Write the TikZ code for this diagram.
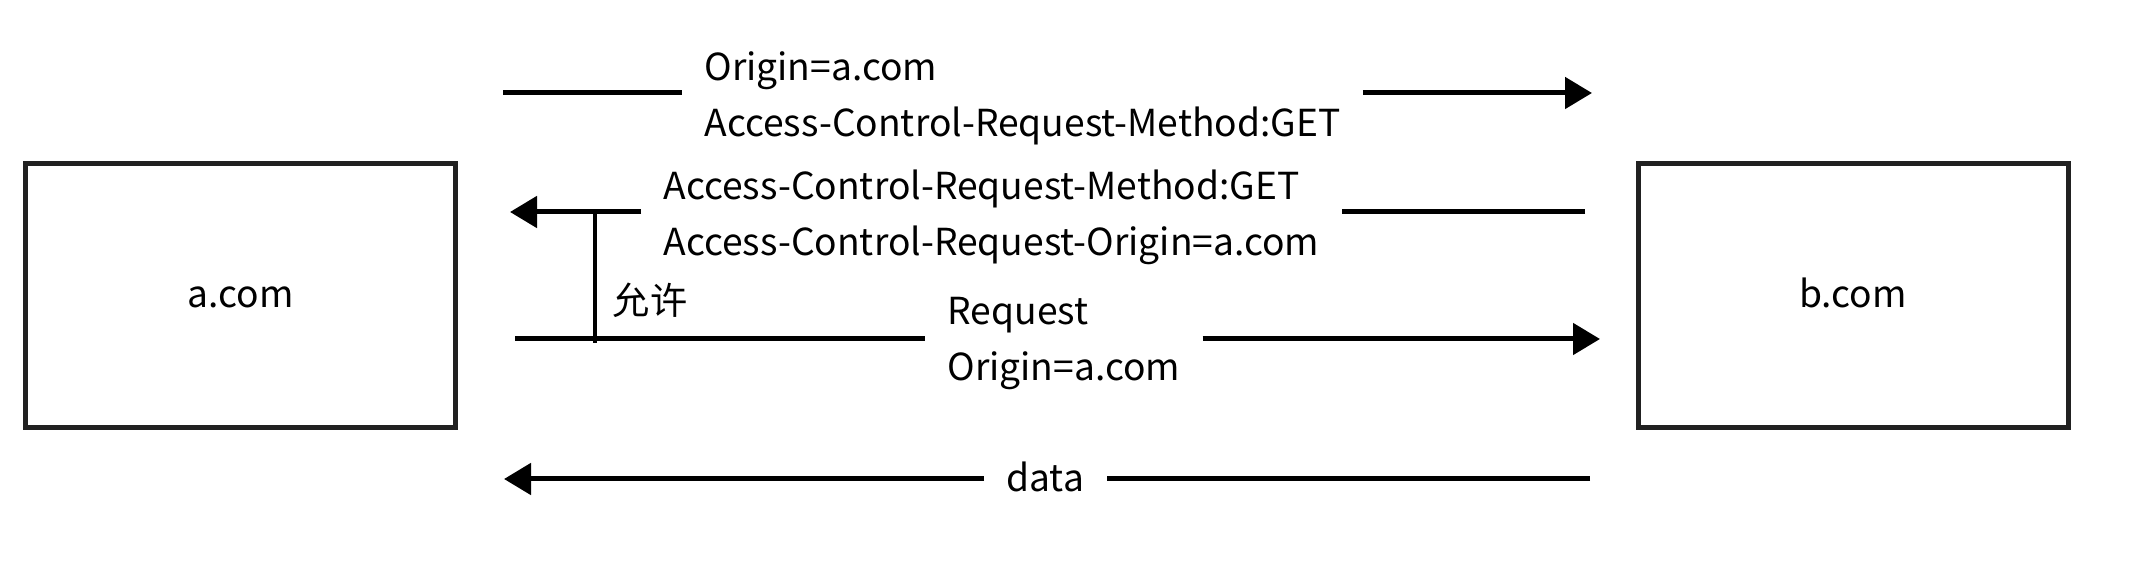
\documentclass[tikz,border=0pt]{standalone}
\usepackage{fontspec}
\setmainfont{Noto Sans CJK SC}
\usetikzlibrary{arrows.meta}

\begin{document}
\begin{tikzpicture}[x=0.5pt, y=-0.5pt, line width=2.5pt,
  >={Triangle[length=13.5pt,width=15.5pt]},
  font=\fontsize{18.6pt}{28pt}\selectfont,
  site/.style={draw=black!87, line width=2.5pt, minimum width=215pt, minimum height=132pt,
    inner sep=0pt, text height=15pt, text depth=2.5pt},
  msg/.style={anchor=west, align=left, inner xsep=10pt, inner ysep=0pt, yshift=-2.5pt}]

\useasboundingbox (0,0) rectangle (2144,561);

\node[site] (a) at (240.5,295.5) {a.com};
\node[site] (b) at (1853,295.5) {b.com};

% preflight request
\coordinate (s1) at (503,93);
\coordinate (e1) at (1592,93);
\node[msg] (l1) at (682,93) {Origin=a.com\\Access-Control-Request-Method:GET};
\draw (s1) -- (s1 -| l1.west);
\draw[->] (s1 -| l1.east) -- (e1);

% preflight response
\coordinate (s2) at (1585,212);
\coordinate (e2) at (510,212);
\node[msg] (l2) at (641,212) {Access-Control-Request-Method:GET\\Access-Control-Request-Origin=a.com};
\draw (s2) -- (s2 -| l2.east);
\draw[->] (s2 -| l2.west) -- (e2);

% actual request
\coordinate (s3) at (515,339);
\coordinate (e3) at (1600,339);
\node[msg] (l3) at (925,339) {Request\\Origin=a.com};
\draw (s3) -- (s3 -| l3.west);
\draw[->] (s3 -| l3.east) -- (e3);

% response
\coordinate (s4) at (1590,479);
\coordinate (e4) at (504,479);
\node[msg, yshift=3.5pt] (l4) at (984,479) {data};
\draw (s4) -- (s4 -| l4.east);
\draw[->] (s4 -| l4.west) -- (e4);

% allow
\coordinate (v1) at (595,212);
\coordinate (v2) at (595,343);
\draw[line width=2pt] (v1) -- (v2);
\node (ok) at (650,300) {允许};

\end{tikzpicture}
\end{document}
